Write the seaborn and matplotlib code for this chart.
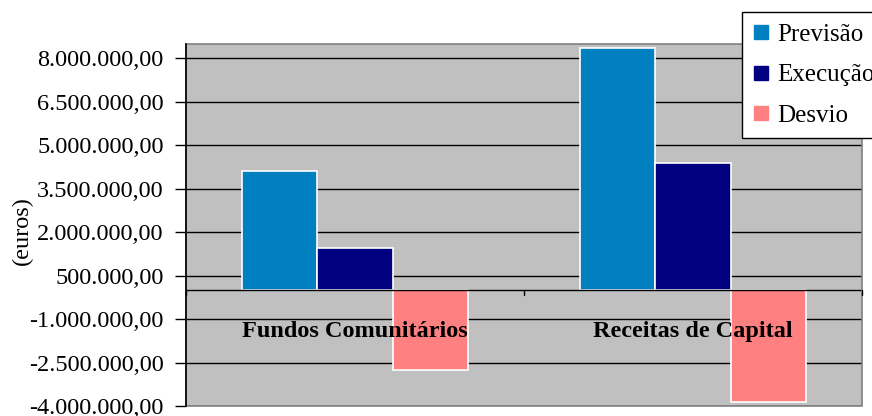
import matplotlib
matplotlib.use("Agg")
import matplotlib.pyplot as plt
from matplotlib.ticker import FuncFormatter, FixedLocator
from matplotlib.patches import Rectangle
from matplotlib.lines import Line2D
import seaborn as sns
import pandas as pd

# Budget categories and series (euros)
categories = ["Fundos Comunitários", "Receitas de Capital"]
series = ["Previsão", "Execução", "Desvio"]
previsao = [4120000, 8350000]
execucao = [1440000, 4400000]
desvio = [-2760000, -3850000]
colors = ["#0080C0", "#000080", "#FF8080"]
yticks = [-4000000, -2500000, -1000000, 500000, 2000000, 3500000, 5000000, 6500000, 8000000]

df = pd.DataFrame({
    "categoria": categories * 3,
    "serie": [s for s in series for _ in categories],
    "valor": previsao + execucao + desvio,
})

sns.set_theme(style="white")
plt.rcParams["font.family"] = ["Liberation Serif", "DejaVu Serif"]
plt.rcParams["text.color"] = "black"
plt.rcParams["axes.labelcolor"] = "black"
plt.rcParams["ytick.color"] = "black"
plt.rcParams["xtick.color"] = "black"

fig = plt.figure(figsize=(8.72, 4.16), dpi=100)
ax = fig.add_axes([186 / 872, 1 - 406 / 416, (862 - 186) / 872, (406 - 44) / 416])
ax.set_facecolor("#C0C0C0")

sns.barplot(data=df, x="categoria", y="valor", hue="serie", order=categories,
            hue_order=series, palette=colors, width=0.67, saturation=1,
            edgecolor="white", linewidth=1.2, errorbar=None, legend=False,
            ax=ax, zorder=3)

ax.set_xlim(-0.5, 1.5)
ax.set_ylim(-4000000, 8500000)

# Horizontal gridlines and zero axis
for v in yticks:
    ax.axhline(v, color="black", lw=1.0, zorder=1)
ax.axhline(0, color="black", lw=1.0, zorder=4)

# Frame: black value axis on the left, grey border elsewhere
for side in ["top", "right", "bottom"]:
    ax.spines[side].set_visible(False)
ax.add_patch(Rectangle((0, 0), 1, 1, transform=ax.transAxes, fill=False,
                       edgecolor="#808080", lw=1.2, zorder=5, clip_on=False))
ax.spines["left"].set_color("black")
ax.spines["left"].set_linewidth(1.2)
ax.spines["left"].set_zorder(6)

ax.yaxis.set_major_locator(FixedLocator(yticks))
ax.yaxis.set_major_formatter(FuncFormatter(
    lambda v, p: f"{v:,.2f}".replace(",", "X").replace(".", ",").replace("X", ".")))
ax.tick_params(axis="y", which="major", direction="out", length=8, width=1,
               color="black", labelcolor="black", labelsize=17.5, pad=8, left=True)

# Category boundary ticks on the zero axis
ax.set_xticks([])
ax.set_xlabel("")
for xb in [-0.5, 0.5, 1.5]:
    ax.plot([xb, xb], [0, -180000], color="black", lw=1, zorder=6, clip_on=False)

# Category labels drawn inside the plot area
for i, c in enumerate(categories):
    ax.text(i, -1430000, c, ha="center", va="center", fontsize=17.5,
            fontweight="bold", color="black", zorder=7)

ax.set_ylabel("(euros)", fontsize=17.5, color="black")
ax.yaxis.set_label_coords(-0.226, 0.485)

handles = [Line2D([], [], marker="s", linestyle="none", markersize=9.4,
                  markerfacecolor=c, markeredgecolor=c) for c in colors]
leg = fig.legend(handles, series, loc="upper left",
                 bbox_to_anchor=(742 / 872, 1 - 12 / 416), fontsize=18,
                 frameon=True, fancybox=False, edgecolor="black",
                 framealpha=1, borderpad=0.45, labelspacing=0.72,
                 handlelength=0.6, handletextpad=0.35, borderaxespad=0)
leg.get_frame().set_linewidth(1.0)
for t in leg.get_texts():
    t.set_color("black")

fig.savefig("out.png", dpi=100)
